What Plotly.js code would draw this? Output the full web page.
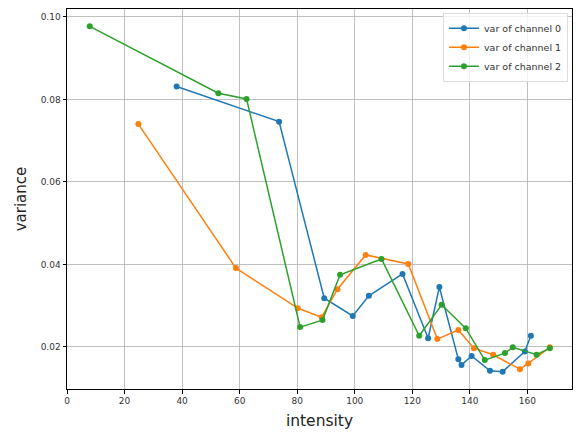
<!DOCTYPE html>
<html>
<head>
<meta charset="utf-8">
<script src="https://cdn.plot.ly/plotly-3.0.1.min.js"></script>
<style>html,body{margin:0;padding:0;background:#fff;}#chart{width:576px;height:434px;}</style>
</head>
<body>
<div id="chart"></div>
<script>
const ch0X = [38.1, 73.7, 89.4, 99.3, 104.9, 116.6, 125.5, 129.4, 136.0, 137.1, 140.6, 147.0, 151.4, 159.1, 161.2];
const ch0Y = [0.0831, 0.0746, 0.0318, 0.0275, 0.0324, 0.0377, 0.0221, 0.0345, 0.0170, 0.0156, 0.0178, 0.0142, 0.0140, 0.0189, 0.0227];
const ch1X = [24.8, 58.7, 80.2, 88.5, 94.0, 103.8, 118.6, 128.7, 136.0, 141.4, 148.1, 157.4, 160.3, 167.8];
const ch1Y = [0.0740, 0.0391, 0.0294, 0.0272, 0.0340, 0.0423, 0.0401, 0.0219, 0.0241, 0.0197, 0.0181, 0.0146, 0.0160, 0.0199];
const ch2X = [7.9, 52.6, 62.4, 81.0, 88.8, 94.9, 109.3, 122.4, 130.2, 138.6, 145.2, 152.2, 154.9, 163.2, 167.8];
const ch2Y = [0.0977, 0.0815, 0.0801, 0.0248, 0.0265, 0.0375, 0.0413, 0.0227, 0.0302, 0.0245, 0.0168, 0.0185, 0.0199, 0.0181, 0.0197];
const names = ['var of channel 0', 'var of channel 1', 'var of channel 2'];
const colors = ['#1f77b4', '#ff7f0e', '#2ca02c'];
const xTicks = [0, 20, 40, 60, 80, 100, 120, 140, 160];
const yTicks = [0.02, 0.04, 0.06, 0.08, 0.10];
const yTickText = ['0.02', '0.04', '0.06', '0.08', '0.10'];

const series = [[ch0X, ch0Y], [ch1X, ch1Y], [ch2X, ch2Y]];
const traces = series.map((s, i) => ({
  x: s[0], y: s[1], name: names[i], type: 'scatter', mode: 'lines+markers',
  line: {color: colors[i], width: 1.5},
  marker: {color: colors[i], size: 6, symbol: 'circle'}
}));

const axisCommon = {
  showgrid: true, gridcolor: '#b0b0b0', gridwidth: 0.8,
  showline: true, linecolor: '#000', linewidth: 1, mirror: true,
  ticks: 'outside', ticklen: 3.5, tickcolor: '#000', tickwidth: 1,
  zeroline: false,
  tickfont: {family: 'DejaVu Sans', size: 9, color: '#333'}
};

const layout = {
  width: 576, height: 434,
  margin: {l: 67, r: 4, t: 9, b: 45},
  paper_bgcolor: '#fff', plot_bgcolor: '#fff',
  showlegend: true,
  legend: {x: 0.992, y: 0.99, xanchor: 'right', yanchor: 'top',
    bgcolor: 'rgba(255,255,255,0.8)', bordercolor: '#ddd', borderwidth: 1,
    font: {family: 'DejaVu Sans', size: 9.5, color: '#333'}, tracegroupgap: 0},
  xaxis: Object.assign({}, axisCommon, {
    range: [0, 175.5], tickvals: xTicks, ticktext: xTicks.map(String),
    title: {text: 'intensity', font: {family: 'DejaVu Sans', size: 15.5, color: '#222'}, standoff: 9}
  }),
  yaxis: Object.assign({}, axisCommon, {
    range: [0.0098, 0.1019], tickvals: yTicks, ticktext: yTickText,
    title: {text: 'variance', font: {family: 'DejaVu Sans', size: 15, color: '#222'}, standoff: 10}
  })
};

Plotly.newPlot('chart', traces, layout, {displayModeBar: false, staticPlot: true});
</script>
</body>
</html>
